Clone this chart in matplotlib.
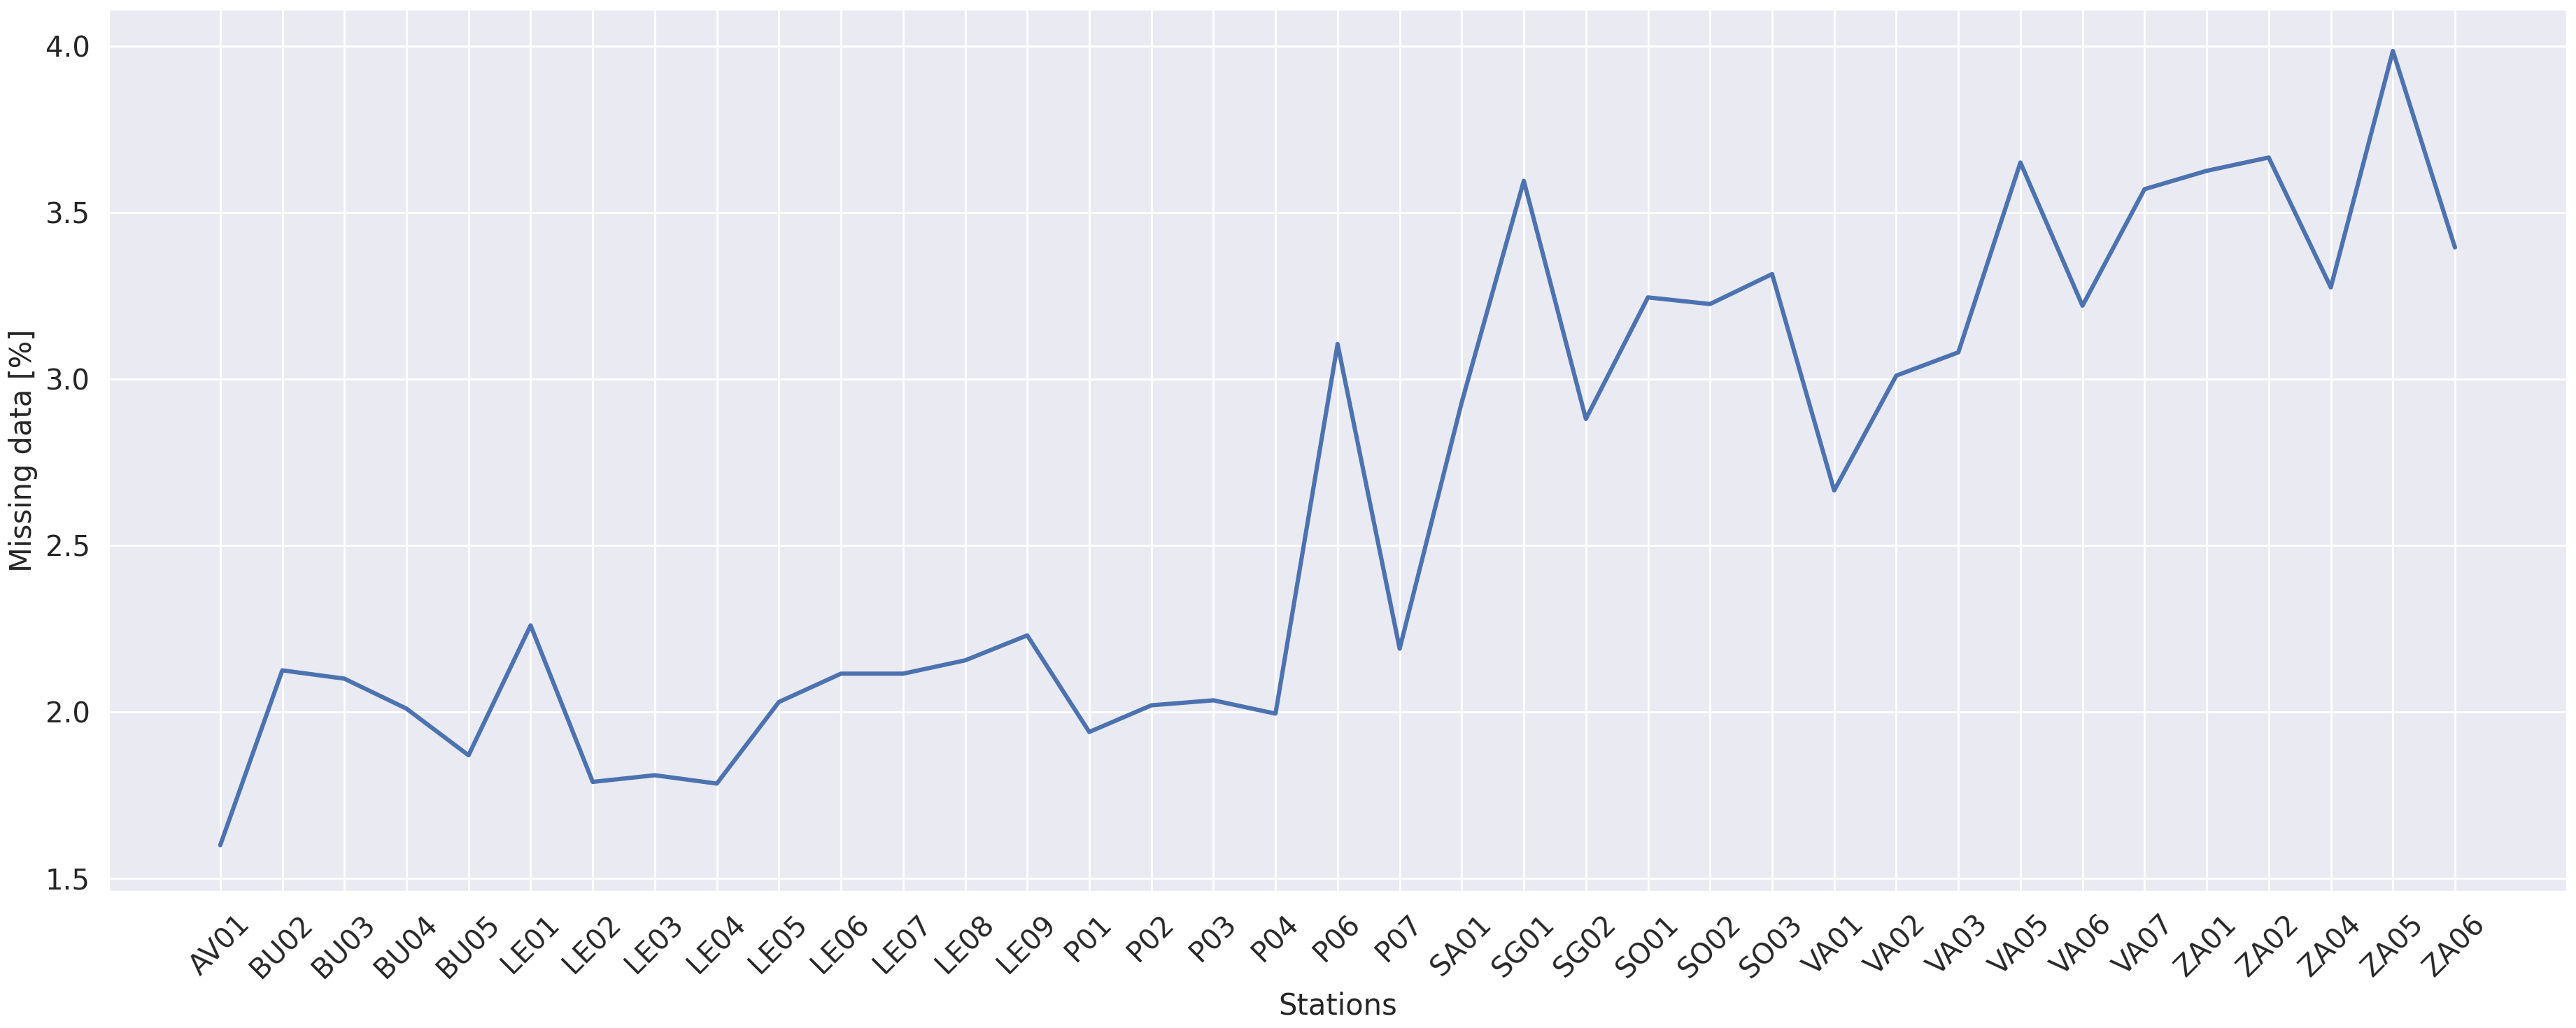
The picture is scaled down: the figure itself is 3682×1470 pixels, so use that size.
import matplotlib
matplotlib.use("Agg")
import matplotlib.pyplot as plt
import seaborn as sns

stations = ["AV01", "BU02", "BU03", "BU04", "BU05", "LE01", "LE02", "LE03", "LE04", "LE05",
            "LE06", "LE07", "LE08", "LE09", "P01", "P02", "P03", "P04", "P06", "P07",
            "SA01", "SG01", "SG02", "SO01", "SO02", "SO03", "VA01", "VA02", "VA03", "VA05",
            "VA06", "VA07", "ZA01", "ZA02", "ZA04", "ZA05", "ZA06"]
missing = [1.60, 2.125, 2.10, 2.01, 1.87, 2.26, 1.79, 1.81, 1.785, 2.03,
           2.115, 2.115, 2.155, 2.23, 1.94, 2.02, 2.035, 1.995, 3.105, 2.19,
           2.93, 3.595, 2.88, 3.245, 3.225, 3.315, 2.665, 3.01, 3.08, 3.65,
           3.22, 3.57, 3.625, 3.665, 3.275, 3.985, 3.395]

sns.set_theme(style="darkgrid")
fig, ax = plt.subplots(figsize=(18.41, 7.35))
ax.plot(stations, missing, color="#4c72b0", lw=2.2)
ax.set_xlabel("Stations", fontsize=15)
ax.set_ylabel("Missing data [%]", fontsize=15)
ax.tick_params(axis="x", labelrotation=45, labelsize=14.5)
ax.tick_params(axis="y", labelsize=14.5)
for lab in ax.get_xticklabels():
    lab.set_ha("center")
ax.set_yticks([1.5, 2.0, 2.5, 3.0, 3.5, 4.0])
ax.set_xlim(-1.8, len(stations) + 0.8)
ax.set_ylim(1.46, 4.11)
fig.tight_layout(pad=0.4)
fig.savefig("out.png", dpi=200)
